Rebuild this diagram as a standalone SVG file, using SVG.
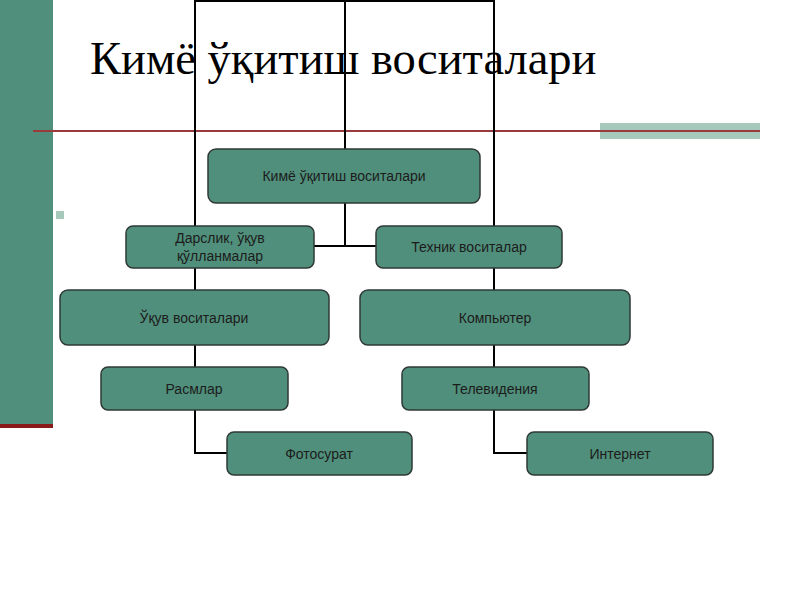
<svg xmlns="http://www.w3.org/2000/svg" width="800" height="600" viewBox="0 0 800 600">
<style>
.node rect{fill:#508f7b;stroke:#2f3a36;stroke-width:1.5}
.node text{font-family:"Liberation Sans",Arial,sans-serif;font-size:14px;fill:#1c1c1c;text-anchor:middle}
.conn{fill:none;stroke:#000;stroke-width:2}
</style>
<rect width="800" height="600" fill="#fff"/>
<rect x="0" y="0" width="53" height="424" fill="#508f7b"/>
<rect x="0" y="424" width="53" height="4" fill="#8b1a1a"/>
<rect x="600" y="123" width="160" height="16" fill="#a6c9bc"/>
<line x1="33" y1="131" x2="760" y2="131" stroke="#9b3a3a" stroke-width="2"/>
<rect x="56" y="211" width="8" height="8" fill="#a6c9bc"/>
<g id="connectors">
<path class="conn" d="M195,290 V1 H494 V290"/>
<path class="conn" d="M345,1 V246"/>
<path class="conn" d="M314,246 H376"/>
<path class="conn" d="M195,345 V453 H227"/>
<path class="conn" d="M494,345 V453 H527"/>
</g>
<text x="90" y="74" font-family="Liberation Serif,'Times New Roman',serif" font-size="46.5" fill="#000">Кимё ўқитиш воситалари</text>
<g id="root" class="node"><rect x="208" y="149" width="272" height="54" rx="8"/><text x="344" y="181">Кимё ўқитиш воситалари</text></g>
<g id="darslik" class="node"><rect x="126" y="226" width="188" height="42" rx="7"/><text x="220" y="243">Дарслик, ўқув</text><text x="220" y="261">қўлланмалар</text></g>
<g id="texnik" class="node"><rect x="376" y="226" width="186" height="42" rx="7"/><text x="469" y="252">Техник воситалар</text></g>
<g id="uquv" class="node"><rect x="60" y="290" width="269" height="55" rx="8"/><text x="194" y="323">Ўқув воситалари</text></g>
<g id="komp" class="node"><rect x="360" y="290" width="270" height="55" rx="8"/><text x="495" y="323">Компьютер</text></g>
<g id="rasm" class="node"><rect x="101" y="367" width="187" height="43" rx="7"/><text x="194" y="394">Расмлар</text></g>
<g id="tv" class="node"><rect x="402" y="367" width="187" height="43" rx="7"/><text x="495" y="394">Телевидения</text></g>
<g id="foto" class="node"><rect x="227" y="432" width="185" height="43" rx="7"/><text x="319" y="459">Фотосурат</text></g>
<g id="internet" class="node"><rect x="527" y="432" width="186" height="43" rx="7"/><text x="620" y="459">Интернет</text></g>
</svg>
